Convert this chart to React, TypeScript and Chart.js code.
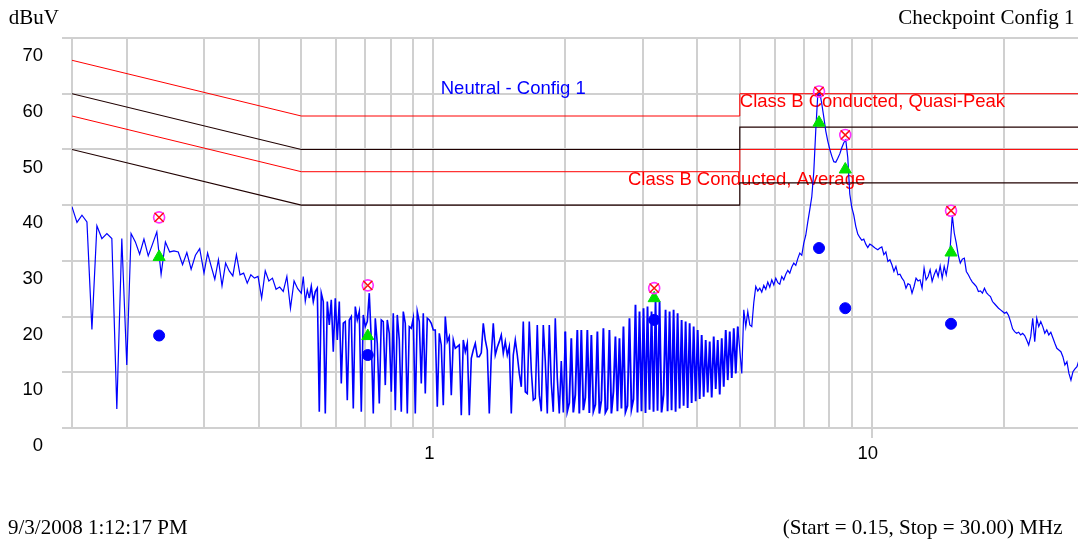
import { useEffect, useRef } from 'react';
import { Chart, registerables } from 'chart.js';

Chart.register(...registerables);

// Neutral line scan, levels in dBuV, one list per sweep band (log-spaced points inside each band)
const levels150kTo200k = [39.7, 36.9, 38.2, 37.0, 17.7, 36.3, 34.0, 34.9, 34.0, 3.4, 34.0];
const levels200kTo300k = [11.3, 34.9, 33.4, 31.2, 33.9, 30.9, 33.0, 35.2, 27.6, 33.4, 31.6, 31.8, 31.6, 29.3, 31.5, 28.5, 31.0, 32.2];
const levels300kTo500k = [27.8, 31.4, 29.0, 26.7, 30.2, 25.5, 29.6, 28.2, 27.3, 31.1, 27.5, 27.8, 26.0, 27.5, 26.9, 27.2, 23.3, 28.2, 26.4, 26.9, 24.9, 25.3, 24.5, 27.2, 21.5, 26.4, 25.0];
const levels500kTo1M = [
  24.2, 27.2, 22.7, 24.8, 23.3, 25.4, 22.7, 24.5, 25.1, 2.9,
  24.2, 22.7, 2.6, 22.7, 18.5, 23.0, 13.7, 23.3, 15.8, 22.7,
  8.0, 18.8, 19.1, 5.0, 19.4, 20.0, 3.5, 21.8, 19.4, 20.9,
  2.9, 20.3, 18.2, 19.1, 24.2, 15.8, 2.6, 19.7, 15.2, 4.4,
  19.4, 19.1, 7.7, 19.4, 17.0, 6.5, 20.6, 3.2, 20.3, 15.8,
  2.9, 20.9, 18.8, 2.6, 18.2, 17.9, 19.7, 2.6, 20.9, 19.1,
  8.0, 20.6, 6.2, 19.7, 19.4, 18.8,
];
const levels1MTo2M = [
  17.6, 17.6, 3.8, 17.0, 14.9, 4.1, 20.0, 15.5, 16.4, 5.9,
  15.8, 14.3, 14.6, 14.9, 2.3, 15.8, 13.7, 15.2, 2.3, 12.5,
  14.0, 15.2, 12.8, 12.8, 13.5, 18.8, 15.8, 14.0, 2.6, 13.0,
  18.8, 13.1, 14.5, 15.5, 16.7, 13.4, 15.5, 13.1, 14.6, 2.6,
  13.1, 15.8, 13.1, 9.8, 7.4, 19.1, 6.5, 6.2, 19.1, 10.4,
  5.0, 5.3, 18.5, 5.9, 3.0, 18.5, 12.0, 2.6, 18.5, 8.0,
  2.9, 19.7, 9.0, 2.6, 12.0, 2.8,
];
const levels2MTo5M = [
  17.3, 3.0, 4.5, 16.1, 2.8, 6.0, 17.6, 2.6, 17.6, 3.2,
  5.5, 17.6, 2.7, 16.7, 3.0, 4.2, 17.3, 2.6, 5.0, 17.9,
  2.8, 3.5, 17.6, 2.6, 6.5, 16.4, 3.0, 16.1, 3.5, 18.2,
  2.9, 4.0, 19.7, 3.4, 5.2, 22.1, 2.8, 20.9, 3.0, 21.5,
  2.7, 21.8, 3.3, 20.9, 2.9, 22.7, 3.1, 22.7, 2.8, 6.0,
  21.2, 3.0, 20.9, 3.2, 21.2, 2.9, 20.6, 3.5, 19.4, 4.0,
  19.1, 3.6, 18.8, 4.5, 18.2, 4.8, 17.6, 5.2, 16.7, 5.6,
  15.8, 6.4, 15.5, 5.5, 16.4, 7.0, 15.8, 6.0, 16.1, 7.4,
  17.6, 8.6, 17.3, 9.0, 17.9, 9.8, 18.2,
];
const levels5MTo10M = [
  14.0, 9.8, 21.2, 18.2, 20.9, 18.5, 18.2, 22.5, 25.4, 24.6,
  25.1, 24.4, 25.6, 24.9, 26.2, 25.3, 26.6, 25.7, 26.9, 26.1,
  25.8, 27.2, 26.6, 27.6, 28.3, 27.8, 28.9, 29.6, 29.2, 30.4,
  31.4, 31.0, 33.2, 34.6, 37.0, 39.2, 41.5, 46.0, 53.5, 59.8,
  60.2, 58.2, 55.8, 53.3, 51.5, 50.0, 48.8, 47.8, 47.7, 48.4,
  49.2, 50.3, 51.2, 51.7, 48.5, 42.0, 39.6, 38.2, 36.2, 34.8,
  34.2, 33.7, 33.9, 33.0, 32.4, 33.0,
];
const levels10MTo30M = [
  32.8, 32.5, 32.2, 32.0, 32.3, 32.5, 31.1, 31.6, 29.9, 30.2,
  29.3, 28.1, 29.0, 27.5, 27.6, 26.9, 26.4, 25.1, 25.9, 25.7,
  24.2, 25.4, 26.9, 26.4, 26.6, 25.1, 28.7, 26.6, 27.2, 28.4,
  26.3, 27.5, 28.4, 27.2, 29.1, 26.9, 29.0, 27.5, 29.6, 32.5,
  38.2, 35.0, 33.2, 31.0, 29.6, 30.3, 30.5, 28.1, 27.5, 26.8,
  26.2, 25.8, 25.4, 24.5, 24.6, 24.2, 25.1, 24.3, 23.9, 23.6,
  22.7, 22.3, 21.9, 21.5, 21.2, 20.9, 20.6, 20.8, 20.2, 19.1,
  17.8, 17.3, 17.0, 17.2, 16.7, 17.0, 16.6, 15.8, 14.9, 16.4,
  19.7, 15.5, 19.7, 18.2, 19.1, 18.2, 17.0, 17.6, 16.7, 17.2,
  16.2, 15.2, 14.3, 14.0, 13.7, 12.8, 11.3, 11.9, 9.8, 8.6,
  10.1, 10.6, 11.0, 12.2, 12.6,
];

const sweepBands = [
  { startMHz: 0.15, stopMHz: 0.2, levels: levels150kTo200k },
  { startMHz: 0.2, stopMHz: 0.3, levels: levels200kTo300k },
  { startMHz: 0.3, stopMHz: 0.5, levels: levels300kTo500k },
  { startMHz: 0.5, stopMHz: 1, levels: levels500kTo1M },
  { startMHz: 1, stopMHz: 2, levels: levels1MTo2M },
  { startMHz: 2, stopMHz: 5, levels: levels2MTo5M },
  { startMHz: 5, stopMHz: 10, levels: levels5MTo10M },
  { startMHz: 10, stopMHz: 30, levels: levels10MTo30M },
];

// EN 55022 Class B conducted limits and the 6 dB warning lines below them
const limitFreqMHz = [0.15, 0.5, 5, 5, 30];
const quasiPeakLimit = [66, 56, 56, 60, 60];
const quasiPeakWarning = [60, 50, 50, 54, 54];
const averageLimit = [56, 46, 46, 50, 50];
const averageWarning = [50, 40, 40, 44, 44];

// Final measurements at the six suspect frequencies
const markerFreqMHz = [0.237, 0.709, 3.19, 7.58, 8.7, 15.16];
const peakLevels = [37.8, 25.6, 25.1, 60.4, 52.6, 39.0];
const quasiPeakLevels = [30.7, 16.5, 23.3, 54.8, 46.4, 31.5];
const averageLevels = [16.6, 13.1, 19.4, 32.3, 21.5, 18.7];

// Frequency axis grid and labels
const gridFreqMHz = [0.15, 0.2, 0.3, 0.4, 0.5, 0.6, 0.7, 0.8, 0.9, 1, 2, 3, 4, 5, 6, 7, 8, 9, 10, 20, 30];
const labeledFreqMHz = [1, 10];

const SANS = '"Liberation Sans", Arial, Helvetica, sans-serif';
const SERIF = '"Liberation Serif", "Times New Roman", Times, serif';

function sweepPoints() {
  const pts: { x: number; y: number }[] = [];
  sweepBands.forEach((band, bi) => {
    const isLast = bi === sweepBands.length - 1;
    const n = band.levels.length;
    const steps = isLast ? n - 1 : n;
    const ratio = band.stopMHz / band.startMHz;
    band.levels.forEach((lvl, k) => {
      pts.push({ x: band.startMHz * Math.pow(ratio, k / steps), y: lvl });
    });
  });
  return pts;
}

const pair = (xs: number[], ys: number[]) => xs.map((x, i) => ({ x, y: ys[i] }));

const chartNotes = {
  id: 'chartNotes',
  beforeDatasetsDraw(chart: any) {
    const { ctx } = chart;
    const xs = chart.scales.x;
    const ys = chart.scales.y;
    ctx.save();
    ctx.font = `18.5px ${SANS}`;
    ctx.textBaseline = 'alphabetic';
    ctx.textAlign = 'left';
    ctx.fillStyle = '#0000ff';
    ctx.fillText('Neutral - Config 1', xs.getPixelForValue(1.04), ys.getPixelForValue(60.0));
    ctx.fillStyle = '#ff0000';
    ctx.fillText('Class B Conducted, Quasi-Peak', xs.getPixelForValue(5), ys.getPixelForValue(57.6));
    ctx.fillText('Class B Conducted, Average', xs.getPixelForValue(2.78), ys.getPixelForValue(43.6));
    ctx.restore();
  },
};

export default function App() {
  const canvasRef = useRef<HTMLCanvasElement>(null);

  useEffect(() => {
    const canvas = canvasRef.current;
    if (!canvas) return;
    const gridColor = 'rgb(208,208,208)';
    const tickFont = { family: SANS, size: 18.5 };

    const chart = new Chart(canvas, {
      type: 'line',
      data: {
        datasets: [
          {
            label: 'Peak',
            data: pair(markerFreqMHz, peakLevels),
            showLine: false,
            pointStyle: 'crossRot',
            pointRadius: 6.5,
            borderColor: '#ff1010',
            backgroundColor: '#ff1010',
            borderWidth: 1.5,
            order: 0,
          },
          {
            label: 'Peak ring',
            data: pair(markerFreqMHz, peakLevels),
            showLine: false,
            pointStyle: 'circle',
            pointRadius: 5.5,
            borderColor: '#ff30ff',
            backgroundColor: 'rgba(0,0,0,0)',
            borderWidth: 1.6,
            order: 1,
          },
          {
            label: 'Quasi-Peak',
            data: pair(markerFreqMHz, quasiPeakLevels),
            showLine: false,
            pointStyle: 'triangle',
            pointRadius: 7,
            borderColor: 'rgb(0,225,0)',
            backgroundColor: 'rgb(0,225,0)',
            borderWidth: 1,
            order: 2,
          },
          {
            label: 'Average',
            data: pair(markerFreqMHz, averageLevels),
            showLine: false,
            pointStyle: 'circle',
            pointRadius: 5.5,
            borderColor: '#0000ff',
            backgroundColor: '#0000ff',
            borderWidth: 1,
            order: 3,
          },
          {
            label: 'Neutral - Config 1',
            data: sweepPoints(),
            borderColor: '#0000ff',
            borderWidth: 1.1,
            pointRadius: 0,
            tension: 0,
            order: 5,
            segment: {
              // the densely ringing 0.5-5 MHz part reads heavier
              borderWidth: (ctx: any) => {
                const f = ctx.p0.parsed.x;
                if (f >= 2 && f < 4.9) return 1.9;
                return f >= 0.52 && f < 4.9 ? 1.6 : 1.2;
              },
            },
          },
          {
            label: 'QP limit',
            data: pair(limitFreqMHz, quasiPeakLimit),
            borderColor: '#ff0000',
            borderWidth: 1,
            pointRadius: 0,
            order: 10,
          },
          {
            label: 'QP warning',
            data: pair(limitFreqMHz, quasiPeakWarning),
            borderColor: '#200000',
            borderWidth: 1.1,
            pointRadius: 0,
            order: 11,
          },
          {
            label: 'AVG limit',
            data: pair(limitFreqMHz, averageLimit),
            borderColor: '#ff0000',
            borderWidth: 1,
            pointRadius: 0,
            order: 12,
          },
          {
            label: 'AVG warning',
            data: pair(limitFreqMHz, averageWarning),
            borderColor: '#200000',
            borderWidth: 1.1,
            pointRadius: 0,
            order: 13,
          },
        ],
      },
      options: {
        responsive: false,
        animation: false,
        devicePixelRatio: 1,
        events: [],
        layout: { autoPadding: false, padding: { top: 38, right: 0, left: 0, bottom: 0 } },
        plugins: {
          legend: { display: false },
          tooltip: { enabled: false },
          title: { display: false },
        },
        scales: {
          x: {
            type: 'logarithmic',
            min: 0.15,
            max: 30,
            border: { display: false },
            grid: {
              color: gridColor,
              lineWidth: 2,
              tickLength: 10,
              tickColor: (ctx: any) =>
                ctx.tick && labeledFreqMHz.includes(ctx.tick.value) ? gridColor : 'rgba(0,0,0,0)',
            },
            ticks: {
              autoSkip: false,
              maxRotation: 0,
              minRotation: 0,
              padding: 5,
              labelOffset: -4,
              color: '#000',
              font: tickFont,
              callback: (value: any) => (labeledFreqMHz.includes(Number(value)) ? String(value) : ''),
            },
            afterBuildTicks: (scale: any) => {
              scale.ticks = gridFreqMHz.map((v) => ({ value: v }));
            },
            afterFit: (scale: any) => {
              scale.height = 111;
            },
          },
          y: {
            type: 'linear',
            min: 0,
            max: 70,
            border: { display: false },
            grid: { color: gridColor, lineWidth: 2, tickLength: 10 },
            ticks: {
              stepSize: 10,
              padding: 19,
              labelOffset: 18,
              color: '#000',
              font: tickFont,
            },
            afterFit: (scale: any) => {
              scale.width = 72;
            },
          },
        },
      },
      plugins: [chartNotes],
    } as any);

    return () => chart.destroy();
  }, []);

  const serif: any = {
    position: 'absolute',
    fontFamily: SERIF,
    fontSize: 21,
    lineHeight: '21px',
    whiteSpace: 'nowrap',
    color: '#000',
  };

  return (
    <div
      style={{
        position: 'fixed',
        left: 0,
        top: 0,
        width: 1078,
        height: 539,
        overflow: 'hidden',
        background: '#fff',
      }}
    >
      <canvas
        ref={canvasRef}
        width={1086}
        height={539}
        style={{ position: 'absolute', left: 0, top: 0, width: 1086, height: 539 }}
      />
      <div style={{ ...serif, left: 8.7, top: 7.4 }}>dBuV</div>
      <div style={{ ...serif, right: 3.5, top: 7.4 }}>Checkpoint Config 1</div>
      <div style={{ ...serif, left: 8, top: 516.9 }}>9/3/2008 1:12:17 PM</div>
      <div style={{ ...serif, right: 15.5, top: 516.9 }}>(Start = 0.15, Stop = 30.00) MHz</div>
    </div>
  );
}
